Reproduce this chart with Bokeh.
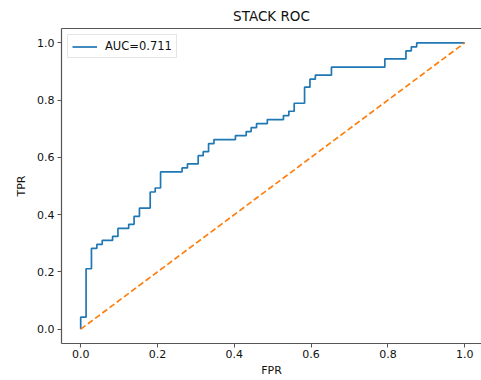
from bokeh.plotting import figure
from bokeh.models import Range1d, LinearAxis, FixedTicker, Legend, LegendItem
from bokeh.embed import file_html
from bokeh.resources import INLINE

# Data
step_fpr = [0.0, 0.014, 0.028, 0.042, 0.056, 0.083, 0.097, 0.125, 0.139, 0.153,
            0.181, 0.194, 0.208, 0.264, 0.278, 0.306, 0.319, 0.333, 0.347, 0.403,
            0.431, 0.444, 0.458, 0.486, 0.528, 0.542, 0.556, 0.583, 0.597, 0.611,
            0.653, 0.792, 0.847, 0.861, 0.875, 1.0]
step_tpr = [0.042, 0.211, 0.282, 0.296, 0.310, 0.324, 0.352, 0.366, 0.394, 0.423,
            0.479, 0.493, 0.549, 0.563, 0.577, 0.606, 0.620, 0.648, 0.662, 0.676,
            0.690, 0.704, 0.718, 0.732, 0.746, 0.761, 0.789, 0.845, 0.873, 0.887,
            0.915, 0.944, 0.972, 0.986, 1.0, 1.0]
diag_x = [0.0, 1.0]
diag_y = [0.0, 1.0]
auc_label = "AUC=0.711"
x_ticks = [0.0, 0.2, 0.4, 0.6, 0.8, 1.0]
y_ticks = [0.0, 0.2, 0.4, 0.6, 0.8, 1.0]

# corner points of the ROC step curve
fpr = [0.0]
tpr = [0.0]
prev = 0.0
for fx, ty in zip(step_fpr, step_tpr):
    fpr.append(fx); tpr.append(prev)
    fpr.append(fx); tpr.append(ty)
    prev = ty

FONT = "DejaVu Sans"
SPINE = "#555555"

p = figure(width=481, height=380, output_backend="svg", toolbar_location=None,
           x_range=Range1d(-0.05, -0.05 + 420 / 384), y_range=Range1d(-0.05, 1.05),
           min_border_left=61, min_border_right=0, min_border_top=28, min_border_bottom=37,
           title="STACK ROC")
p.title.align = "center"
p.title.text_font = FONT
p.title.text_font_size = "13.5px"
p.title.text_font_style = "normal"
p.title.text_color = "#111111"
p.grid.visible = False
p.outline_line_color = None
p.background_fill_color = "white"
p.border_fill_color = "white"

for ax, ticks, lab in ((p.xaxis[0], x_ticks, "FPR"), (p.yaxis[0], y_ticks, "TPR")):
    ax.ticker = FixedTicker(ticks=ticks)
    ax.axis_label = lab
    ax.axis_label_text_font = FONT
    ax.axis_label_text_font_size = "11px"
    ax.axis_label_text_font_style = "normal"
    ax.axis_label_text_color = "#111111"
    ax.major_label_text_font = FONT
    ax.major_label_text_font_size = "11px"
    ax.major_label_text_color = "#111111"
    ax.major_tick_in = 0
    ax.major_tick_out = 4
    ax.minor_tick_in = 0
    ax.minor_tick_out = 0
    ax.axis_line_color = SPINE
    ax.axis_line_width = 1.2
    ax.major_tick_line_color = SPINE

p.xaxis[0].major_label_standoff = 2
p.xaxis[0].axis_label_standoff = 3
p.yaxis[0].major_label_standoff = 3
p.yaxis[0].axis_label_standoff = 6

p.yaxis[0].major_label_overrides = {t: f"{t:.1f}" for t in y_ticks}
p.xaxis[0].major_label_overrides = {t: f"{t:.1f}" for t in x_ticks}

top = LinearAxis(ticker=FixedTicker(ticks=[]), major_label_text_font_size="0px",
                 axis_line_color=SPINE, axis_line_width=1.2,
                 major_tick_out=0, major_tick_in=0, minor_tick_out=0, minor_tick_in=0)
p.add_layout(top, "above")

roc = p.line(fpr, tpr, line_color="#1f77b4", line_width=1.7)
p.line(diag_x, diag_y, line_color="#ff7f0e", line_width=1.7, line_dash="6 3")

legend = Legend(items=[LegendItem(label=auc_label, renderers=[roc])],
                location="top_left")
legend.label_text_font = FONT
legend.label_text_font_size = "11.5px"
legend.label_text_color = "#111111"
legend.glyph_width = 25
legend.glyph_height = 13
legend.label_height = 13
legend.label_standoff = 8
legend.padding = 4
legend.margin = 6
legend.border_line_color = "#cccccc"
legend.border_line_width = 1
legend.background_fill_alpha = 0.8
p.add_layout(legend, "center")

open("out.html", "w").write(file_html(p, INLINE))
